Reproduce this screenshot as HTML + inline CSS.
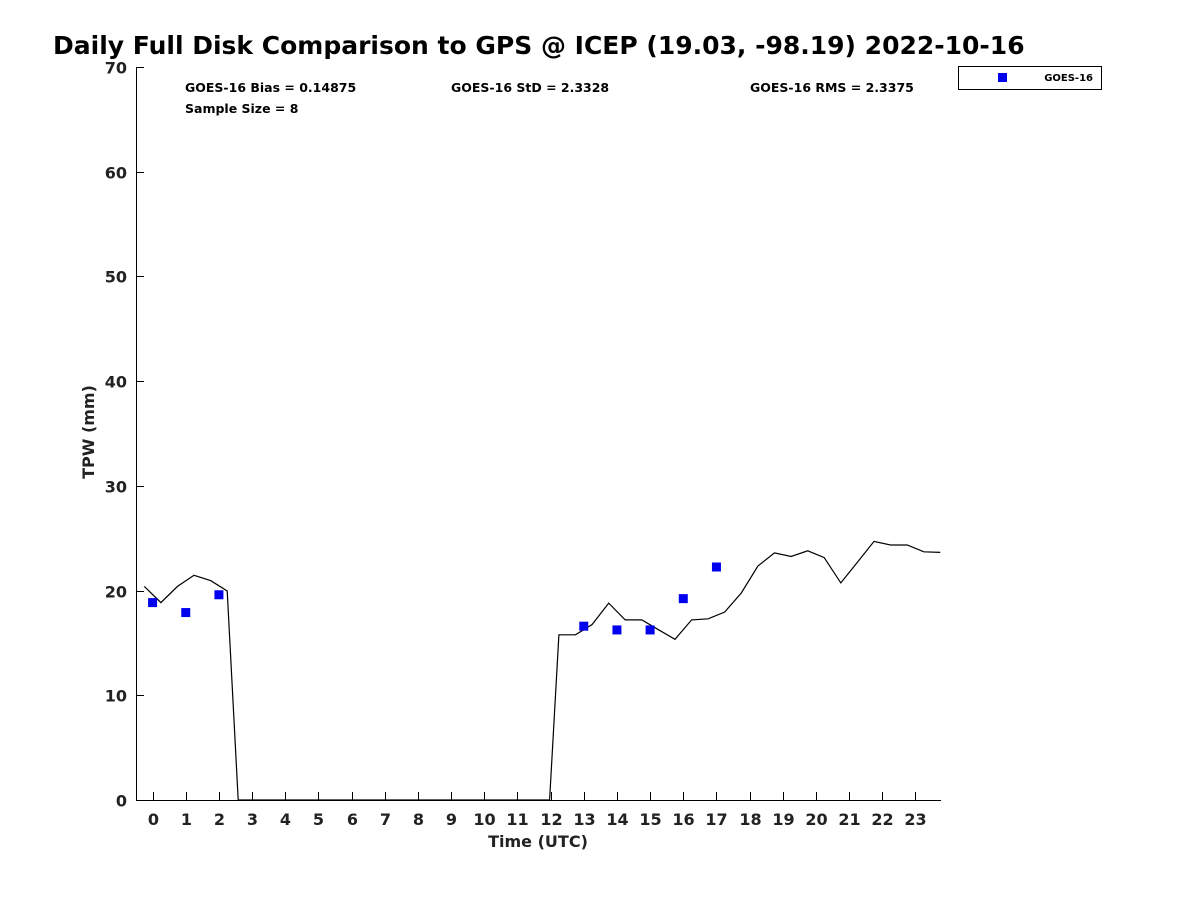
<!DOCTYPE html>
<html><head><meta charset="utf-8"><style>
html,body{margin:0;padding:0;background:#fff;}
svg{display:block;font-family:"DejaVu Sans","Liberation Sans",sans-serif;}
</style></head><body>
<svg id="chart" width="1200" height="900" viewBox="0 0 1200 900">
<text x="53" y="54" font-size="25" font-weight="bold" fill="#000">Daily Full Disk Comparison to GPS @ ICEP (19.03, -98.19) 2022-10-16</text>
<g id="axes"></g>
<g id="plot"></g>
<text x="185" y="92" font-size="12.5" font-weight="bold">GOES-16 Bias = 0.14875</text>
<text x="451" y="92" font-size="12.5" font-weight="bold">GOES-16 StD = 2.3328</text>
<text x="750" y="92" font-size="12.5" font-weight="bold">GOES-16 RMS = 2.3375</text>
<text x="185" y="113" font-size="12.5" font-weight="bold">Sample Size = 8</text>
<g>
<rect x="958.5" y="66.5" width="143" height="23" fill="#fff" stroke="#000" stroke-width="1"/>
<rect x="998" y="73" width="9" height="9" fill="#0000ee"/>
<text x="1093" y="81" font-size="10" font-weight="bold" text-anchor="end">GOES-16</text>
</g>
<text transform="translate(94,432) rotate(-90)" font-size="16" font-weight="bold" text-anchor="middle" fill="#222">TPW (mm)</text>
<text x="538" y="847" font-size="16" font-weight="bold" text-anchor="middle" fill="#222">Time (UTC)</text>
</svg>
<script>
const gpsTimes = [-0.25,0.25,0.75,1.25,1.75,2.25,2.58,11.97,12.25,12.75,13.25,13.75,14.25,14.75,15.25,15.75,16.25,16.75,17.25,17.75,18.25,18.75,19.25,19.75,20.25,20.75,21.25,21.75,22.25,22.75,23.25,23.75];
const gpsValues = [20.4,18.85,20.4,21.46,20.95,19.96,0,0,15.78,15.78,16.76,18.8,17.2,17.2,16.26,15.35,17.2,17.3,17.95,19.77,22.35,23.6,23.25,23.8,23.15,20.73,22.7,24.7,24.35,24.35,23.7,23.65];
const goesTimes = [0,1,2,13,14,15,16,17];
const goesValues = [18.85,17.9,19.6,16.6,16.24,16.24,19.23,22.25];
const yTicks = [0,10,20,30,40,50,60,70];
const xTicks = [0,1,2,3,4,5,6,7,8,9,10,11,12,13,14,15,16,17,18,19,20,21,22,23];

const NS = 'http://www.w3.org/2000/svg';
const X0 = 136, X1 = 941, Y0 = 800, Y1 = 67;
const xMin = -0.5, xMax = 23.77, yMin = 0, yMax = 70;
function xs(t){ return X0 + (t - xMin) / (xMax - xMin) * (X1 - X0); }
function ys(v){ return Y0 - (v - yMin) / (yMax - yMin) * (Y0 - Y1); }
function mk(tag, attrs){ const e = document.createElementNS(NS, tag); for (const k in attrs) e.setAttribute(k, attrs[k]); return e; }

const axes = document.getElementById('axes');
const plot = document.getElementById('plot');
let ax = mk('path', {d:`M${X0+0.5},${Y1} V${Y0+0.5} H${X1}`, stroke:'#000', fill:'none', 'stroke-width':1, 'shape-rendering':'crispEdges'});


axes.appendChild(ax);

yTicks.forEach(v => {
  const y = Math.round(ys(v)) + 0.5;
  const t = mk('line', {x1:X0, x2:X0+8, y1:y, y2:y, stroke:'#000'});
  
  
  axes.appendChild(t);
  const l = mk('text', {x:127, y:y+6, 'font-size':16, 'font-weight':'bold', 'text-anchor':'end', fill:'#222'});
  l.textContent = v;
  
  
  axes.appendChild(l);
});
xTicks.forEach(v => {
  const x = Math.round(xs(v)) + 0.5;
  const t = mk('line', {x1:x, x2:x, y1:Y0, y2:Y0-8, stroke:'#000'});
  
  
  axes.appendChild(t);
  const l = mk('text', {x:x, y:825, 'font-size':16, 'font-weight':'bold', 'text-anchor':'middle', fill:'#222'});
  l.textContent = v;
  
  
  axes.appendChild(l);
});

const pts = gpsTimes.map((t,i) => xs(t).toFixed(1) + ',' + ys(gpsValues[i]).toFixed(1)).join(' ');
const line = mk('polyline', {points:pts, fill:'none', stroke:'#000', 'stroke-width':1.2});


plot.appendChild(line);

goesTimes.forEach((t,i) => {
  const r = mk('rect', {x:xs(t)-4.5, y:ys(goesValues[i])-4.5, width:9, height:9, fill:'#0000ee'});
  
  
  plot.appendChild(r);
});
</script>
</body></html>
